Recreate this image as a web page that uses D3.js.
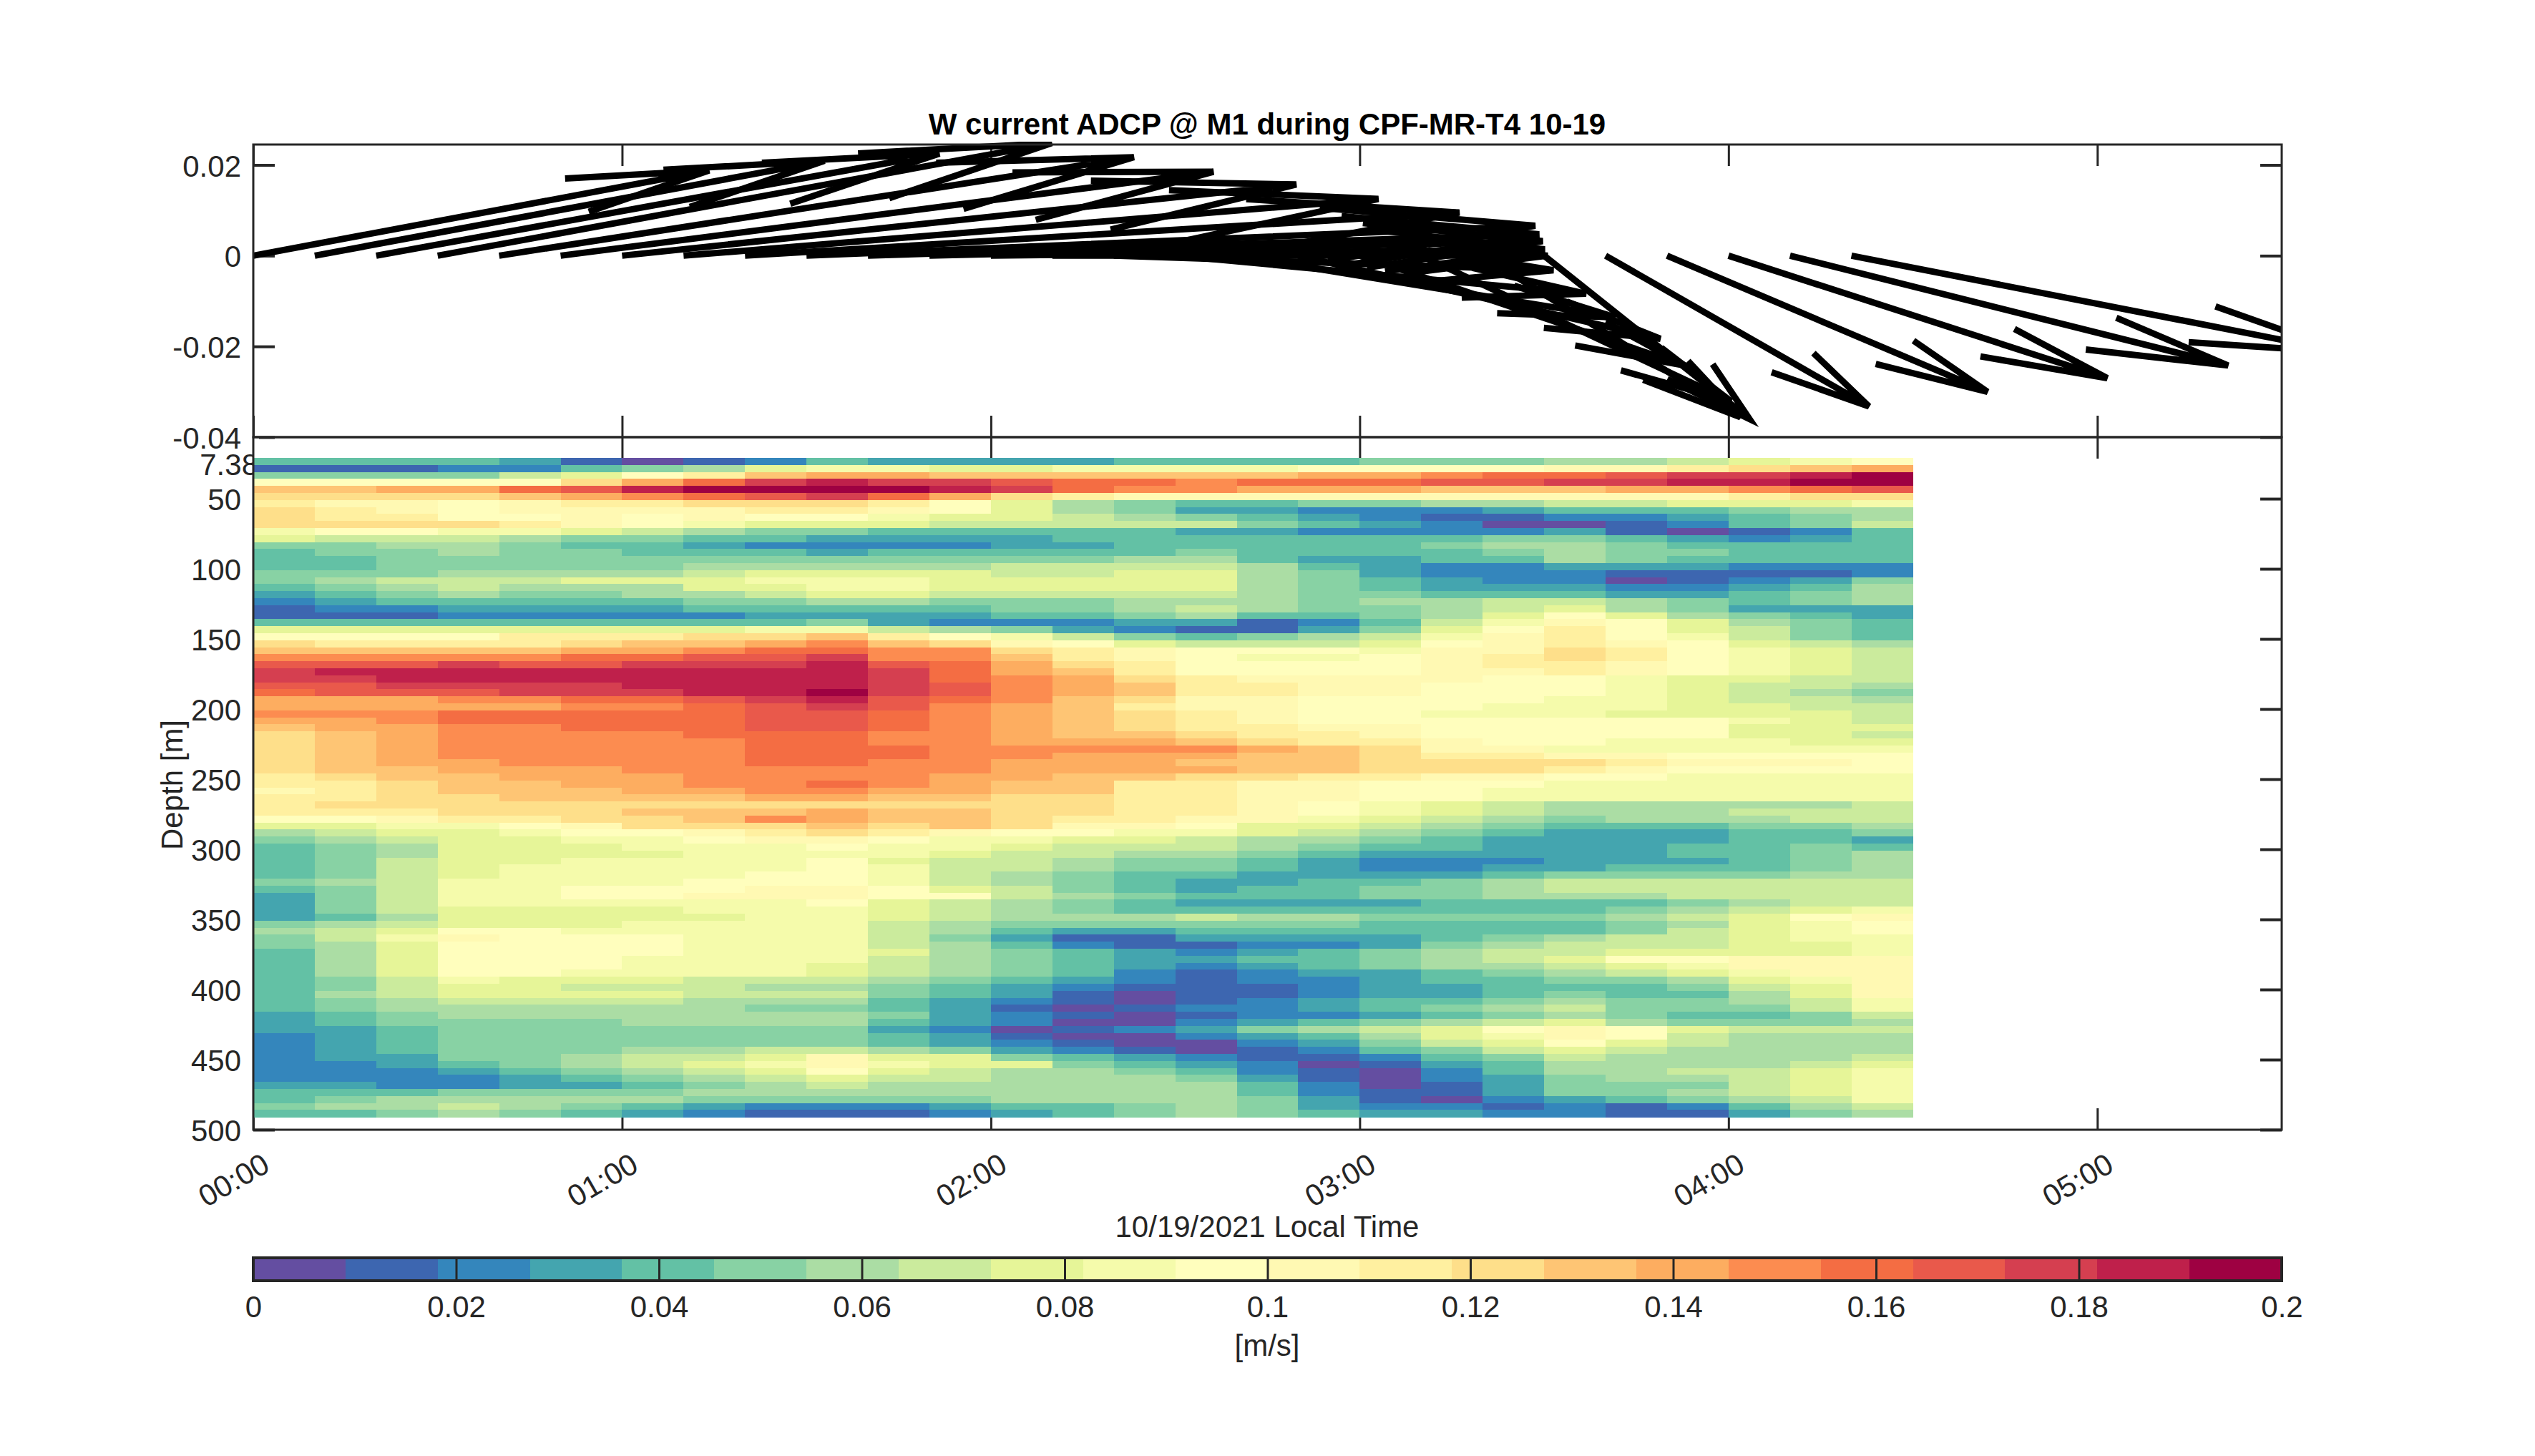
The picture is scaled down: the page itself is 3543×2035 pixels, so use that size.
<!DOCTYPE html>
<html>
<head>
<meta charset="utf-8">
<script src="https://cdn.jsdelivr.net/npm/d3@7"></script>
<style>
  body { margin: 0; background: #fff; }
  text { font-family: "Liberation Sans", Arial, sans-serif; fill: #262626; }
</style>
</head>
<body>
<div id="chart"></div>
<script>
// colour levels of the colorbar, low to high
const colorLevels = ['#644ea1', '#3d66b0', '#3486bc', '#44a5af', '#63c1a5', '#88d2a4', '#abdda4', '#cbeb9d',
                     '#e6f598', '#f5fbab', '#fffebd', '#fff9b3', '#fff0a0', '#fedf8a', '#fec574', '#fdad60',
                     '#fc8c50', '#f46d43', '#e9594b', '#d53f50', '#bf204b', '#9e0142'];
const levelCodes = '0123456789abcdefghijkl';

// arrows at every 10 min: east part in hours along the time axis, north part in m/s
const arrowU = [1.236, 1.382, 1.527, 1.665, 1.721, 1.770, 1.828, 1.884, 1.937, 1.976, 1.820, 1.663, 1.502, 1.343,
                1.192, 1.114, 1.027, 0.982, 0.881, 0.840, 0.699, 0.557, 0.714, 0.869, 1.027, 1.188, 1.339];
const arrowV = [0.0188, 0.0209, 0.0225, 0.0248, 0.0217, 0.0185, 0.0157, 0.0125, 0.0095, 0.0066, 0.0047, 0.0032, 0.0014, 0,
                -0.0032, -0.0084, -0.0136, -0.0183, -0.0242, -0.0321, -0.0356, -0.0360, -0.0332, -0.0300, -0.0270, -0.0242, -0.0213];

// speed per depth bin (rows) and 10 min step (characters), coded as colour level
const speedRows = [
  '44443101243333444455566789a', '11122456899889999aaaabbcdef', '555578aceffeeeeeeffghhijjkl', 'aaaaadfhjkjjihhghhhiijjkkll',
  'eeffhikllllkjhggfffeeeffghi', 'ddddefghijhfdcbbbbbbbbbbcdd', 'cbbabccdddca865445566778889', 'dcbabbbbccba865332223444566',
  'dccaababaa98876543211223456', 'ddddcba98887777754320012457', '9aa998765544444332222310124', '877765544333344444445543234',
  '556654432222334444456654444', '455655444344444544445655444', '445555555555556643344654444', '445555566666777764322333222',
  '555666678888778865322211112', '567778889998888865432201235', '456766688998888865433322346', '345655667887777765544433456',
  '234444455665556665667765456', '122333344444556765567865333', '111222223333445644568a86543', '444444444532223312479ba8654',
  '88888888997653211358aca8754', 'aaaacccddeca97545679bca9754', 'dccccdeefgedba87778abcba876', 'eeeeeffghhggdcbaaa9bbdca987',
  'ggggghhiijggecba99abcdca987', 'iiijiijjjkihfdcaaaabccba987', 'jkkkkkkkkkjhfecaaaabbcba987', 'jjkkkkkkkkjhgfdcbbbbaa98877',
  'iijjjjkkkkjigfeccbbaaa98776', 'hiiijjjkkljigfeccbbaaa98765', 'fffgghhijkihgedbbaaaa998776', 'fffffgghijigfecbbaaa9998877',
  'ggghhhhhiihgfedcbaa99988887', 'ffghhhhhiihgfedcbaaaaaaa987', 'effgghhhiihgfedccbbaaaaa888', 'defgggghhhggfeedccbaaaaa887',
  'defggggghhggfffedccbaa99988', 'defggggghhhgggggfedbb999999', 'defggggghhhggfffeedccbbaaaa', 'deffgggghhggfffeeeddddcbbba',
  'deefffggggggffffeedddcbaaaa', 'cdeefffggggffeeddccbbaa9999', 'ccdeeffgghgfeeccbbaaa999999', 'bcdeeeffggffeeccbbaa9999999',
  'ccddeeeeffeeddccbbaa9999999', 'cdddddddddddddccba987666667', 'cccdddeeefeeddccba987666777', 'aabccddegfeedccbb9876566677',
  '8899abdddededbba88765444556', '67889aabcdcbaa9987654333445', '5678899abba9988766543333443', '456888999a99877765443334454',
  '456888899998776654333334456', '457889999a87765543222333456', '457899999a97765543223344456', '45789999aa97654433334555566',
  '5679999aaa97654334456777777', '45799aaabba8754344556777777', '35799aabbbaa765444556667777', '357999999a87654333344445677',
  '357888899987654444444456789', '3468888899876667665555678ab', '56788899997655555544445689a', '678aa999997643344444445789a',
  '579baaa99975311333345677899', '568aaaa99976421122356777889', '468aaaa99986543234567788889', '468aaa9999765433445678aabbb',
  '468aaa999876543234566789bbb', '468aa99998765421233456789bb', '45798887776543212234455689b', '45788777665432111233444578b',
  '46788887775431011233454468b', '456777766643210123445655679', '456666665543101223456755579', '345666666653210122345654457',
  '345555666643200234567865556', '33455555553201235678aba8777', '234555555543100234689ba7666', '234555555543210023578a87666',
  '234555667765321012457876666', '233556778b88543211245766667', '223456789b98854320134666678', '222345678a87665421024667789',
  '222234567877666531023566789', '332233456766666642013555789', '444555566666666642113556789', '456666655555666653102345679',
  '566765432223445653221212467', '445654321112345654332211356'
];

const hourTicks = [0, 1, 2, 3, 4, 5];
const hourLabels = ['00:00', '01:00', '02:00', '03:00', '04:00', '05:00'];
const speedTicks = [-0.04, -0.02, 0, 0.02];
const speedTickLabels = ['-0.04', '-0.02', '0', '0.02'];
const depthTicks = [50, 100, 150, 200, 250, 300, 350, 400, 450, 500];
const colorTicks = [0, 0.02, 0.04, 0.06, 0.08, 0.1, 0.12, 0.14, 0.16, 0.18, 0.2];

const width = 3543, height = 2035;
const left = 354, right = 3189;
const topA = 202, topB = 611, bottomB = 1579;   // upper axes top, shared edge, lower axes bottom
const fontSize = 42, tickLen = 30, ink = '#262626';

const svg = d3.select('#chart').append('svg')
    .attr('width', width)
    .attr('height', height)
    .style('display', 'block');

const x = d3.scaleLinear().domain([0, 5.5]).range([left, right]);
const yV = d3.scaleLinear().domain([-0.04, 0.0245]).range([topB, topA]);
const yD = d3.scaleLinear().domain([6.1, 500]).range([topB, bottomB]);
const color = d3.scaleQuantize().domain([0, 0.2]).range(colorLevels);
const cbar = d3.scaleLinear().domain([0, 0.2]).range([left, right]);

function styleAxis(g, thick) {
    g.select('.domain').remove();
    g.selectAll('.tick line').attr('stroke', ink).attr('stroke-width', thick);
    g.selectAll('text').style('font-size', fontSize + 'px').style('font-family', null).attr('fill', null);
}

// ---- upper panel: arrows
const xTicksTopA = d3.axisTop(x).tickValues(hourTicks).tickSize(-tickLen).tickFormat('');
svg.append('g').attr('transform', `translate(0,${topA})`).call(xTicksTopA).call(styleAxis, 3);
const xTicksBotA = d3.axisBottom(x).tickValues(hourTicks).tickSize(-tickLen).tickFormat('');
svg.append('g').attr('transform', `translate(0,${topB})`).call(xTicksBotA).call(styleAxis, 3);

const yAxisV = d3.axisLeft(yV).tickValues(speedTicks).tickSize(-tickLen)
    .tickPadding(17).tickFormat((d, i) => speedTickLabels[i]);
svg.append('g').attr('transform', `translate(${left},0)`).call(yAxisV).call(styleAxis, 4)
    .selectAll('text').attr('dy', '0.37em');
svg.append('g').attr('transform', `translate(${right},0)`)
    .call(d3.axisRight(yV).tickValues(speedTicks).tickSize(-tickLen).tickFormat('')).call(styleAxis, 4);

svg.append('defs').append('clipPath').attr('id', 'arrowClip')
    .append('rect').attr('x', left - 4).attr('y', topA - 4).attr('width', right - left + 4).attr('height', topB - topA + 4);

// shaft and two barbs for one arrow, quiver style
function arrowPath(d, i) {
    const t = i / 6;
    const x0 = x(t), y0 = yV(0);
    const x1 = x(t + arrowU[i]), y1 = yV(arrowV[i]);
    const U = x1 - x0, V = y1 - y0;
    const a = 0.29, b = 0.33;
    const bx1 = x1 - a * (U - b * 1.45 * V), by1 = y1 - a * (V + b * 0.38 * U);
    const bx2 = x1 - a * (U + b * 1.45 * V), by2 = y1 - a * (V - b * 0.38 * U);
    return `M${x0},${y0}L${x1},${y1}M${bx1},${by1}L${x1},${y1}L${bx2},${by2}`;
}

svg.append('g').attr('clip-path', 'url(#arrowClip)')
  .selectAll('path').data(arrowU).enter().append('path')
    .attr('d', arrowPath)
    .attr('fill', 'none')
    .attr('stroke', '#000')
    .attr('stroke-width', 9);

// ---- lower panel: ticks first, the cells cover them
svg.append('g').attr('transform', `translate(0,${topB})`)
    .call(d3.axisTop(x).tickValues(hourTicks).tickSize(-tickLen).tickFormat('')).call(styleAxis, 3);

const xAxisB = d3.axisBottom(x).tickValues(hourTicks).tickSize(-tickLen).tickFormat((d, i) => hourLabels[i]);
const gx = svg.append('g').attr('transform', `translate(0,${bottomB})`).call(xAxisB).call(styleAxis, 3);
gx.selectAll('text')
    .attr('y', 0).attr('dy', '0.35em')
    .attr('text-anchor', 'middle')
    .attr('transform', 'translate(-28,70) rotate(-30)');

svg.append('g').attr('transform', `translate(${left},0)`)
    .call(d3.axisLeft(yD).tickValues(depthTicks).tickSize(-tickLen).tickPadding(17)).call(styleAxis, 4)
    .selectAll('text').attr('dy', '0.37em');
svg.append('g').attr('transform', `translate(${right},0)`)
    .call(d3.axisRight(yD).tickValues(depthTicks).tickSize(-tickLen).tickFormat('')).call(styleAxis, 4);

// top depth label sits lower than its true depth, its end runs under the first cells
svg.append('text').attr('x', left + 7).attr('y', yD(25.5))
    .attr('dy', '0.35em').attr('text-anchor', 'end').style('font-size', fontSize + 'px').text('7.38');

// depth bins are 5 m, starting near 20.9 m
const binTop = 20.9, binSize = 5, timeStep = 1 / 6;
const cells = [];
speedRows.forEach((row, r) => {
    row.split('').forEach((c, i) => {
        const level = levelCodes.indexOf(c);
        cells.push({ r: r, i: i, v: (level + 0.5) * 0.2 / colorLevels.length });
    });
});

svg.append('g').attr('shape-rendering', 'crispEdges')
  .selectAll('rect').data(cells).enter().append('rect')
    .attr('x', d => x(d.i * timeStep))
    .attr('y', d => yD(binTop + d.r * binSize))
    .attr('width', x(timeStep) - x(0) + 0.5)
    .attr('height', yD(binSize) - yD(0) + 0.5)
    .attr('fill', d => color(d.v));

// cover the label end left of the cells' first row gap
svg.append('rect').attr('x', left).attr('y', topB).attr('width', 8).attr('height', yD(binTop) - topB).attr('fill', '#fff');

// axes frames go over everything
[[topA, topB], [topB, bottomB]].forEach(p => {
    svg.append('rect').attr('x', left).attr('y', p[0]).attr('width', right - left).attr('height', p[1] - p[0])
        .attr('fill', 'none').attr('stroke', ink).attr('stroke-width', 3);
});

// ---- colorbar
const barTop = 1758, barBottom = 1790;
svg.append('g').attr('shape-rendering', 'crispEdges')
  .selectAll('rect').data(colorLevels).enter().append('rect')
    .attr('x', (d, i) => cbar(i * 0.2 / colorLevels.length))
    .attr('y', barTop)
    .attr('width', cbar(0.2 / colorLevels.length) - cbar(0) + 0.5)
    .attr('height', barBottom - barTop)
    .attr('fill', d => d);

const barAxis = d3.axisBottom(cbar).tickValues(colorTicks).tickSize(-(barBottom - barTop)).tickPadding(21)
    .tickFormat(d => String(d));
svg.append('g').attr('transform', `translate(0,${barBottom})`).call(barAxis).call(styleAxis, 3);
svg.append('rect').attr('x', left).attr('y', barTop).attr('width', right - left).attr('height', barBottom - barTop)
    .attr('fill', 'none').attr('stroke', ink).attr('stroke-width', 4);

// ---- titles and labels
svg.append('text').attr('x', 1771).attr('y', 188).attr('text-anchor', 'middle')
    .style('font-size', '42px').style('font-weight', 'bold').style('fill', '#000')
    .text('W current ADCP @ M1 during CPF-MR-T4 10-19');
svg.append('text').attr('x', 1771).attr('y', 1729).attr('text-anchor', 'middle')
    .style('font-size', fontSize + 'px').text('10/19/2021 Local Time');
svg.append('text').attr('x', 1771).attr('y', 1895).attr('text-anchor', 'middle')
    .style('font-size', fontSize + 'px').text('[m/s]');
svg.append('text').attr('transform', 'translate(255,1097) rotate(-90)').attr('text-anchor', 'middle')
    .style('font-size', fontSize + 'px').text('Depth [m]');
</script>
</body>
</html>
